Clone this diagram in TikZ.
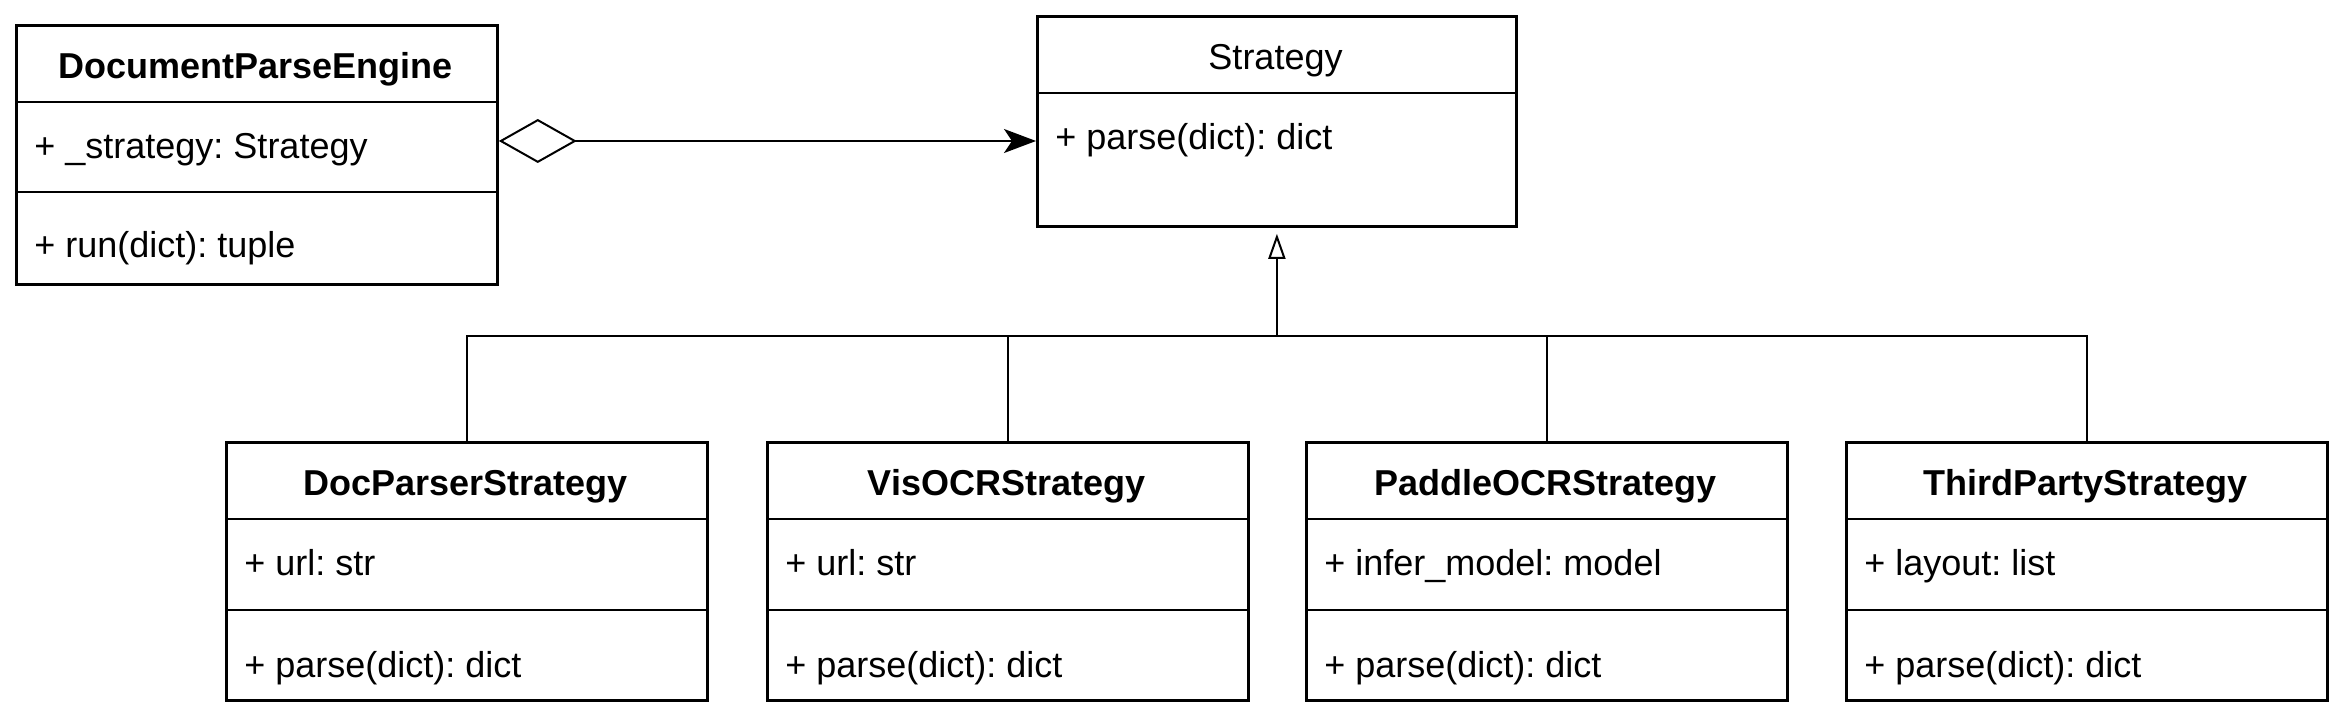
\documentclass[tikz,border=0pt]{standalone}
\usepackage{fontspec}
\setmainfont{Liberation Sans}
\usetikzlibrary{arrows.meta}
\frenchspacing
\tikzset{
	classframe/.style={draw=black, line width=1.4pt, fill=white, anchor=north west, inner sep=0pt, minimum width=240.5pt},
	classline/.style={line width=1.4pt},
	classtitle/.style={inner sep=0pt, font=\fontsize{18}{21.6}\selectfont\bfseries, text height=0.75em, text depth=0.25em},
	member/.style={inner sep=0pt, anchor=west, font=\fontsize{18}{21.6}\selectfont, text height=0.75em, text depth=0.25em},
	link/.style={line width=1pt},
}

\begin{document}
\begin{tikzpicture}[x=0.5pt, y=-0.5pt]
			%%%%% START %%%%%
			\fill[white] (0, 0) rectangle (2345, 727);
			\useasboundingbox (0, 0) rectangle (2345, 727);
			
			% engine
			\node[classframe, minimum height=129.5pt] (engine) at (15, 24) {};
			\draw[classline] (15, 102) -- (496, 102);
			\draw[classline] (15, 192) -- (496, 192);
			\node[classtitle] (engineName) at (255.5, 74) {DocumentParseEngine};
			\node[member] (engineAttr) at (34, 154) {+ \_strategy: Strategy};
			\node[member] (engineOp) at (34, 253) {+ run(dict): tuple};
			
			% strategy
			\node[classframe, minimum width=239.5pt, minimum height=105pt] (strategy) at (1036, 15) {};
			\draw[classline] (1036, 93) -- (1515, 93);
			\node[classtitle, font=\fontsize{18}{21.6}\selectfont] (strategyName) at (1275.5, 65) {Strategy};
			\node[member] (strategyOp) at (1055, 145) {+ parse(dict): dict};
			
			% docparser
			\node[classframe, minimum height=129pt] (docparser) at (225, 441) {};
			\draw[classline] (225, 519) -- (706, 519);
			\draw[classline] (225, 610) -- (706, 610);
			\node[classtitle] (docparserName) at (465.5, 490) {DocParserStrategy};
			\node[member] (docparserAttr) at (244, 570) {+ url: str};
			\node[member] (docparserOp) at (244, 672) {+ parse(dict): dict};
			
			% visocr
			\node[classframe, minimum height=129pt] (visocr) at (766, 441) {};
			\draw[classline] (766, 519) -- (1247, 519);
			\draw[classline] (766, 610) -- (1247, 610);
			\node[classtitle] (visocrName) at (1006.5, 490) {VisOCRStrategy};
			\node[member] (visocrAttr) at (785, 570) {+ url: str};
			\node[member] (visocrOp) at (785, 672) {+ parse(dict): dict};
			
			% paddle
			\node[classframe, minimum height=129pt] (paddle) at (1305, 441) {};
			\draw[classline] (1305, 519) -- (1786, 519);
			\draw[classline] (1305, 610) -- (1786, 610);
			\node[classtitle] (paddleName) at (1545.5, 490) {PaddleOCRStrategy};
			\node[member] (paddleAttr) at (1324, 570) {+ infer\_model: model};
			\node[member] (paddleOp) at (1324, 672) {+ parse(dict): dict};
			
			% thirdparty
			\node[classframe, minimum height=129pt] (thirdparty) at (1845, 441) {};
			\draw[classline] (1845, 519) -- (2326, 519);
			\draw[classline] (1845, 610) -- (2326, 610);
			\node[classtitle] (thirdpartyName) at (2085.5, 490) {ThirdPartyStrategy};
			\node[member] (thirdpartyAttr) at (1864, 570) {+ layout: list};
			\node[member] (thirdpartyOp) at (1864, 672) {+ parse(dict): dict};
			
			% aggregation
			\coordinate (aggY) at (0, 141);
			\draw[link, {Diamond[open, length=39pt, width=22pt]}-{Stealth[length=16pt, width=12pt, inset=4pt]}]
				(engine.east |- aggY) -- (strategy.west |- aggY);
			
			% inheritance
			\coordinate (busY) at (0, 336);
			\draw[link] (docparser.north) |- (thirdparty.north |- busY) -- (thirdparty.north);
			\draw[link] (visocr.north) -- (visocr.north |- busY);
			\draw[link] (paddle.north) -- (paddle.north |- busY);
			\draw[link, -{Triangle[open, length=12.5pt, width=8.5pt]}, shorten >=3pt] (strategy.south |- busY) -- (strategy.south);
			
			%%%%% END %%%%%
		\end{tikzpicture}
\end{document}
